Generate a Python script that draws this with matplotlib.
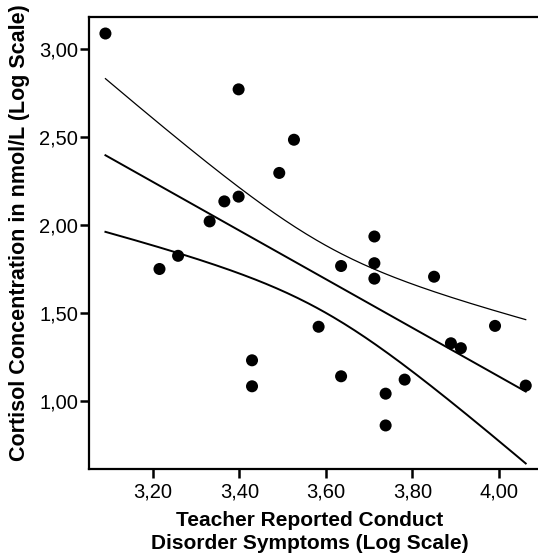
import numpy as np
import matplotlib
matplotlib.use("Agg")
import matplotlib.pyplot as plt
from matplotlib.ticker import FuncFormatter

plt.rcParams['font.family'] = ['Liberation Sans', 'DejaVu Sans']

# teacher reported conduct disorder symptoms (log scale)
symptoms = [3.090, 3.398, 3.526, 3.492, 3.398, 3.365, 3.331, 3.215, 3.258,
            3.429, 3.429, 3.712, 3.635, 3.712, 3.712, 3.850, 3.583, 3.991,
            3.889, 3.912, 3.635, 3.782, 3.738, 3.738, 4.062]
# cortisol concentration in nmol/L (log scale)
cortisol = [3.091, 2.773, 2.486, 2.297, 2.162, 2.135, 2.021, 1.750, 1.825,
            1.230, 1.082, 1.935, 1.767, 1.783, 1.695, 1.706, 1.421, 1.426,
            1.327, 1.299, 1.139, 1.120, 1.040, 0.859, 1.086]
x_ticks = [3.2, 3.4, 3.6, 3.8, 4.0]
y_ticks = [1.0, 1.5, 2.0, 2.5, 3.0]

x = np.array(symptoms)
y = np.array(cortisol)

# linear fit with 95% confidence band of the mean
slope, intercept = np.polyfit(x, y, 1)
n = len(x)
resid = y - (slope * x + intercept)
s = np.sqrt(np.sum(resid ** 2) / (n - 2))
sxx = np.sum((x - x.mean()) ** 2)
t_val = 2.069
xs = np.linspace(x.min(), x.max(), 200)
fit = slope * xs + intercept
se = s * np.sqrt(1.0 / n + (xs - x.mean()) ** 2 / sxx)

fig = plt.figure(figsize=(5.38, 5.58), dpi=100)
ax = fig.add_axes([89 / 538, 1 - 469 / 558, 451 / 538, 452 / 558])

ax.plot(xs, fit, c='black', lw=1.4)
ax.plot(xs, fit + t_val * se, c='black', lw=0.9)
ax.plot(xs, fit - t_val * se, c='black', lw=1.4)
ax.scatter(x, y, s=75, c='black', edgecolors='none', zorder=3)

ax.set_xlim(3.052, 4.095)
ax.set_ylim(0.611, 3.185)
ax.set_xticks(x_ticks)
ax.set_yticks(y_ticks)
comma = FuncFormatter(lambda v, pos: "{:.2f}".format(v).replace('.', ','))
ax.xaxis.set_major_formatter(comma)
ax.yaxis.set_major_formatter(comma)
ax.tick_params(direction='out', length=6.5, width=1.8, labelsize=14.5, pad=1.5)
ax.tick_params(axis='x', pad=3)
for sp in ax.spines.values():
    sp.set_linewidth(1.6)
ax.spines['right'].set_visible(False)

ax.set_xlabel("Teacher Reported Conduct\nDisorder Symptoms (Log Scale)",
              fontsize=15, fontweight='bold', linespacing=1.22)
ax.xaxis.set_label_coords(0.49, -0.094, transform=ax.transAxes)
ax.xaxis.label.set_va('top')
ax.set_ylabel("Cortisol Concentration in nmol/L (Log Scale)",
              fontsize=15.5, fontweight='bold')
ax.yaxis.set_label_coords(-0.153, 0.522, transform=ax.transAxes)
ax.yaxis.label.set_va('center')

fig.savefig("out.png", dpi=100)
